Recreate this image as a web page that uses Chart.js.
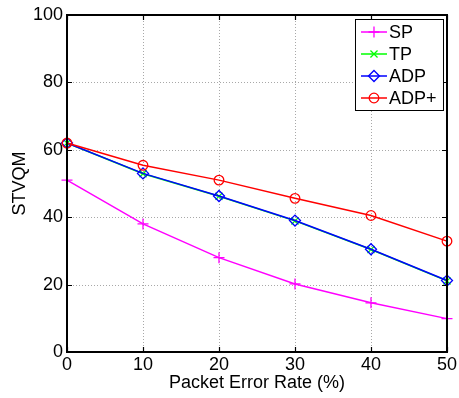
<!DOCTYPE html>
<html>
<head>
<meta charset="utf-8">
<script src="https://cdn.jsdelivr.net/npm/chart.js@4/dist/chart.umd.min.js"></script>
<style>
  html, body { margin: 0; padding: 0; background: #fff; }
  #wrap { width: 459px; height: 398px; }
</style>
</head>
<body>
<div id="wrap"><canvas id="myChart" width="459" height="398"></canvas></div>
<script>
// Packet error rate (%) on the x axis
const errorRates = [0, 10, 20, 30, 40, 50];

// STVQM for each scheme
const spValues = [51, 38, 28, 20.2, 14.6, 9.9];
const tpValues = [62, 52.9, 46.2, 38.9, 30.4, 21.1];
const adpValues = [62, 53.0, 46.3, 39.0, 30.5, 21.2];
const adpPlusValues = [62, 55.4, 51.0, 45.6, 40.5, 32.9];

const xTicks = [0, 10, 20, 30, 40, 50];
const yTicks = [0, 20, 40, 60, 80, 100];

const FONT = { family: '"Liberation Sans", Arial, sans-serif', size: 18 };

function toPoints(values) {
    return errorRates.map((x, i) => ({ x: x, y: values[i] }));
}

// later series are drawn over earlier ones (lower order = on top)
function series(label, values, color, style, radius, order) {
    return {
        label: label,
        data: toPoints(values),
        order: order,
        borderColor: color,
        backgroundColor: color,
        borderWidth: 1.5,
        pointStyle: style,
        pointRadius: radius,
        pointHoverRadius: radius,
        pointBorderColor: color,
        pointBackgroundColor: 'rgba(0,0,0,0)',
        pointBorderWidth: 1.3,
        tension: 0,
        clip: false
    };
}

// dotted grid lines behind the data
const dottedGrid = {
    id: 'dottedGrid',
    beforeDatasetsDraw(chart) {
        const { ctx, chartArea: a, scales } = chart;
        ctx.save();
        ctx.strokeStyle = '#a8a8a8';
        ctx.lineWidth = 1;
        ctx.setLineDash([1, 2]);
        ctx.beginPath();
        xTicks.slice(1, -1).forEach(v => {
            const px = Math.round(scales.x.getPixelForValue(v)) + 0.5;
            ctx.moveTo(px, a.top); ctx.lineTo(px, a.bottom);
        });
        yTicks.slice(1, -1).forEach(v => {
            const py = Math.round(scales.y.getPixelForValue(v)) + 0.5;
            ctx.moveTo(a.left, py); ctx.lineTo(a.right, py);
        });
        ctx.stroke();
        ctx.restore();
    }
};

// black box round the plot with inward tick marks on all four sides
const frameTicks = {
    id: 'frameTicks',
    afterDatasetsDraw(chart) {
        const { ctx, chartArea: a, scales } = chart;
        const len = 5;
        ctx.save();
        ctx.strokeStyle = '#000';
        ctx.lineWidth = 2;
        ctx.strokeRect(a.left, a.top, a.right - a.left, a.bottom - a.top);
        ctx.lineWidth = 1.2;
        ctx.beginPath();
        xTicks.forEach(v => {
            const px = Math.round(scales.x.getPixelForValue(v)) + 0.5;
            ctx.moveTo(px, a.bottom); ctx.lineTo(px, a.bottom - len);
            ctx.moveTo(px, a.top); ctx.lineTo(px, a.top + len);
        });
        yTicks.forEach(v => {
            const py = Math.round(scales.y.getPixelForValue(v)) + 0.5;
            ctx.moveTo(a.left, py); ctx.lineTo(a.left + len, py);
            ctx.moveTo(a.right, py); ctx.lineTo(a.right - len, py);
        });
        ctx.stroke();
        ctx.restore();
    }
};

// boxed legend in the top right corner, line + marker per entry
const boxLegend = {
    id: 'boxLegend',
    afterDraw(chart) {
        const { ctx, chartArea: a } = chart;
        const w = 88, h = 91;
        const bx = a.right - 4 - w, by = a.top + 4;
        ctx.save();
        ctx.fillStyle = '#fff';
        ctx.fillRect(bx, by, w, h);
        ctx.strokeStyle = '#000';
        ctx.lineWidth = 1;
        ctx.strokeRect(bx + 0.5, by + 0.5, w, h);
        ctx.font = FONT.size + 'px ' + FONT.family;
        ctx.textBaseline = 'middle';
        chart.data.datasets.forEach((ds, i) => {
            const y = by + 13 + i * 22;
            ctx.strokeStyle = ds.borderColor;
            ctx.lineWidth = ds.borderWidth;
            ctx.beginPath();
            ctx.moveTo(bx + 6, y);
            ctx.lineTo(bx + 32, y);
            ctx.stroke();
            ctx.lineWidth = ds.pointBorderWidth;
            ctx.fillStyle = 'rgba(0,0,0,0)';
            Chart.helpers.drawPoint(ctx, {
                pointStyle: ds.pointStyle,
                radius: ds.pointRadius,
                rotation: 0,
                borderWidth: ds.pointBorderWidth
            }, bx + 19, y);
            ctx.fillStyle = '#000';
            ctx.fillText(ds.label, bx + 34, y + 1);
        });
        ctx.restore();
    }
};

const data = {
    datasets: [
        series('SP', spValues, '#ff00ff', 'cross', 5.5, 3),
        series('TP', tpValues, '#00ff00', 'crossRot', 5, 2),
        series('ADP', adpValues, '#0000ff', 'rectRot', 5.5, 1),
        series('ADP+', adpPlusValues, '#ff0000', 'circle', 4.8, 0)
    ]
};

const config = {
    type: 'line',
    data,
    options: {
        responsive: false,
        animation: false,
        events: [],
        layout: { padding: { top: 15, right: 11, bottom: 0, left: 0 } },
        plugins: {
            legend: { display: false },
            tooltip: { enabled: false }
        },
        scales: {
            x: {
                type: 'linear',
                min: 0,
                max: 50,
                afterBuildTicks: s => { s.ticks = xTicks.map(v => ({ value: v })); },
                afterFit: s => { s.height = 46; },
                grid: { display: false, drawTicks: false },
                border: { display: false },
                ticks: { color: '#000', font: FONT, padding: 2, maxRotation: 0 },
                title: {
                    display: true,
                    text: 'Packet Error Rate (%)',
                    color: '#000',
                    font: FONT,
                    padding: { top: 0, bottom: 4 }
                }
            },
            y: {
                min: 0,
                max: 100,
                afterBuildTicks: s => { s.ticks = yTicks.map(v => ({ value: v })); },
                afterFit: s => { s.width = 67; },
                grid: { display: false, drawTicks: false },
                border: { display: false },
                ticks: { color: '#000', font: FONT, padding: 4 },
                title: {
                    display: true,
                    text: 'STVQM',
                    color: '#000',
                    font: FONT,
                    padding: { top: 9, bottom: 0 }
                }
            }
        }
    },
    plugins: [dottedGrid, frameTicks, boxLegend]
};

const myChart = new Chart(document.getElementById('myChart'), config);
</script>
</body>
</html>
